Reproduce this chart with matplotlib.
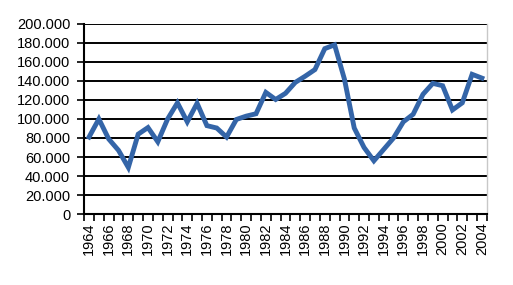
import matplotlib.pyplot as plt
from matplotlib.ticker import FuncFormatter, FixedLocator

plt.rcParams['font.family'] = ['Liberation Sans', 'DejaVu Sans']

years = list(range(1964, 2005))
values = [81000, 100000, 79000, 67000, 49000, 84000, 91000, 76000, 100000, 117000,
          97000, 116500, 93000, 90500, 81000, 99500, 103000, 105500, 128000, 120500,
          127000, 138500, 145000, 152000, 174000, 178000, 142000, 90500, 70000, 56000,
          68000, 80000, 97000, 105000, 126000, 137500, 135000, 109500, 117000, 147000,
          143000]
y_ticks = list(range(0, 200001, 20000))

fig = plt.figure(figsize=(5.13, 2.85), dpi=100)
ax = fig.add_axes([0.164, 0.249, 0.785, 0.667])

x = list(range(len(years)))
ax.plot(x, values, color='#3465a8', lw=3.5, solid_joinstyle='miter', zorder=3)

ax.set_xlim(-0.5, len(years) - 0.5)
ax.set_ylim(0, 200000)

ax.yaxis.set_major_locator(FixedLocator(y_ticks))
ax.yaxis.set_major_formatter(FuncFormatter(lambda v, p: f"{v:,.0f}".replace(",", ".")))
ax.grid(axis='y', color='black', lw=1.4, zorder=1)

# ticks between categories, labels every second year
ax.xaxis.set_major_locator(FixedLocator([i - 0.5 for i in range(len(years) + 1)]))
ax.xaxis.set_major_formatter(FuncFormatter(lambda v, p: ""))
ax.xaxis.set_minor_locator(FixedLocator(x[::2]))
ax.set_xticklabels([str(y) for y in years[::2]], minor=True, rotation=90)
ax.tick_params(axis='x', which='minor', length=0, pad=6, labelsize=10.5)
ax.tick_params(axis='x', which='major', length=5, width=1.2, color='black')
ax.tick_params(axis='y', length=5, width=1.2, pad=5, labelsize=10.5)

for s in ['left', 'bottom']:
    ax.spines[s].set_color('black')
    ax.spines[s].set_linewidth(1.5)
ax.spines['top'].set_visible(False)
ax.spines['right'].set_color('#c8c8c8')
ax.spines['right'].set_linewidth(1)

fig.savefig('out.png', dpi=100)
